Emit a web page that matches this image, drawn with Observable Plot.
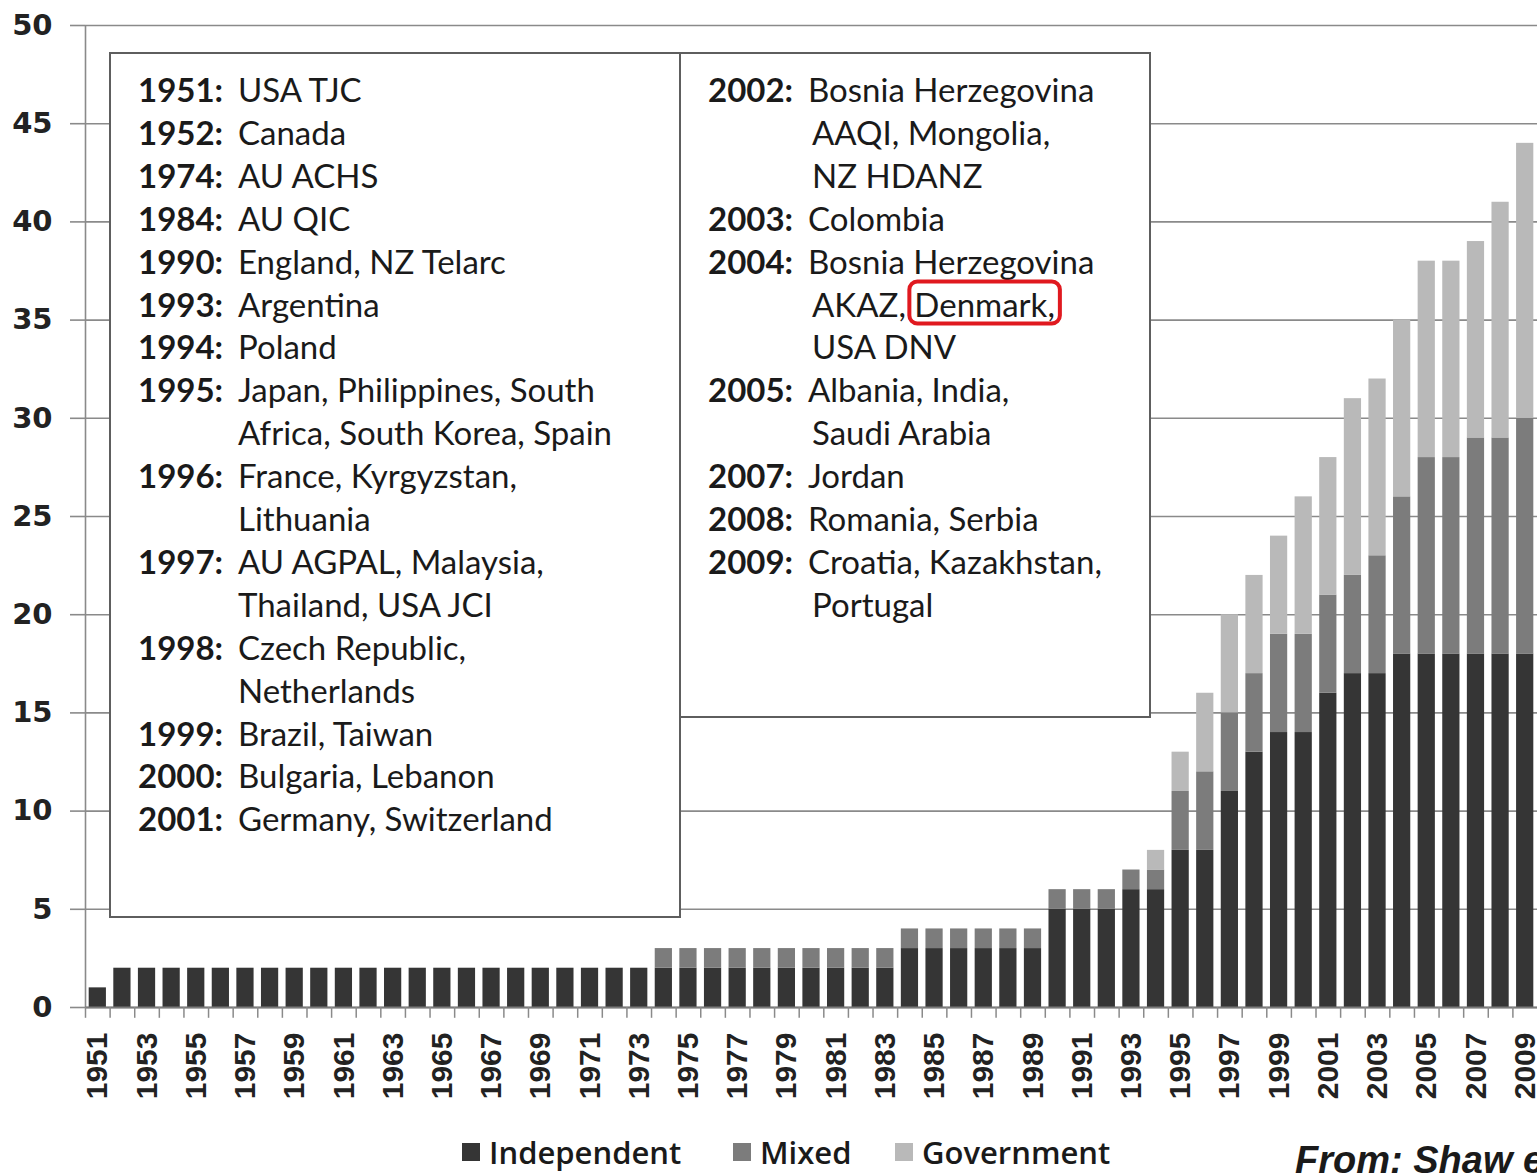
<!DOCTYPE html>
<html>
<head>
<meta charset="utf-8">
<script src="https://cdn.jsdelivr.net/npm/d3@7"></script>
<script src="https://cdn.jsdelivr.net/npm/@observablehq/plot@0.6"></script>
<style>
  html, body { margin: 0; padding: 0; background: #fff; overflow: hidden; }
  #wrap { position: relative; width: 1537px; height: 1173px; overflow: hidden; background: #fff; }
  #legend { position: absolute; left: 0; top: 1128px; width: 1537px; height: 48px;
            font-family: "Open Sans", sans-serif; font-weight: 600; font-size: 31px; color: #1a1a1a; }
  .item { position: absolute; top: 0; height: 48px; display: flex; align-items: center; white-space: nowrap; }
  .sw { width: 18px; height: 18px; margin-right: 9px; }
  #source { position: absolute; left: 1295px; top: 1141px; line-height: 38px; white-space: nowrap;
            font-family: "Liberation Sans", Arial, sans-serif; font-weight: bold; font-style: italic;
            font-size: 38px; color: #1a1a1a; }
</style>
</head>
<body>
<div id="wrap">
  <div id="chart"></div>
  <div id="legend"></div>
  <div id="source">From: Shaw e</div>
</div>
<script>
// ---------- data ----------
const years = [1951,1952,1953,1954,1955,1956,1957,1958,1959,1960,1961,1962,1963,1964,1965,1966,1967,1968,1969,1970,
  1971,1972,1973,1974,1975,1976,1977,1978,1979,1980,1981,1982,1983,1984,1985,1986,1987,1988,1989,1990,
  1991,1992,1993,1994,1995,1996,1997,1998,1999,2000,2001,2002,2003,2004,2005,2006,2007,2008,2009];
const independent = [1,2,2,2,2,2,2,2,2,2,2,2,2,2,2,2,2,2,2,2,
  2,2,2,2,2,2,2,2,2,2,2,2,2,3,3,3,3,3,3,5,
  5,5,6,6,8,8,11,13,14,14,16,17,17,18,18,18,18,18,18];
const mixed = [0,0,0,0,0,0,0,0,0,0,0,0,0,0,0,0,0,0,0,0,
  0,0,0,1,1,1,1,1,1,1,1,1,1,1,1,1,1,1,1,1,
  1,1,1,1,3,4,4,4,5,5,5,5,6,8,10,10,11,11,12];
const government = [0,0,0,0,0,0,0,0,0,0,0,0,0,0,0,0,0,0,0,0,
  0,0,0,0,0,0,0,0,0,0,0,0,0,0,0,0,0,0,0,0,
  0,0,0,1,2,4,5,5,5,7,7,9,9,9,10,10,10,12,14];
const seriesNames = ["Independent", "Mixed", "Government"];
const seriesColors = ["#353535", "#7c7c7c", "#b9b9b9"];
const yTicks = [0,5,10,15,20,25,30,35,40,45,50];
const labelYears = years.filter((y, i) => i % 2 === 0);

const leftNotes = [
  ["1951", ["USA TJC"]],
  ["1952", ["Canada"]],
  ["1974", ["AU ACHS"]],
  ["1984", ["AU QIC"]],
  ["1990", ["England, NZ Telarc"]],
  ["1993", ["Argentina"]],
  ["1994", ["Poland"]],
  ["1995", ["Japan, Philippines, South", "Africa, South Korea, Spain"]],
  ["1996", ["France, Kyrgyzstan,", "Lithuania"]],
  ["1997", ["AU AGPAL, Malaysia,", "Thailand, USA JCI"]],
  ["1998", ["Czech Republic,", "Netherlands"]],
  ["1999", ["Brazil, Taiwan"]],
  ["2000", ["Bulgaria, Lebanon"]],
  ["2001", ["Germany, Switzerland"]]
];
const rightNotes = [
  ["2002", ["Bosnia Herzegovina", "AAQI, Mongolia,", "NZ HDANZ"]],
  ["2003", ["Colombia"]],
  ["2004", ["Bosnia Herzegovina", "AKAZ, |Denmark,", "USA DNV"]],
  ["2005", ["Albania, India,", "Saudi Arabia"]],
  ["2007", ["Jordan"]],
  ["2008", ["Romania, Serbia"]],
  ["2009", ["Croatia, Kazakhstan,", "Portugal"]]
];

// ---------- table for the library ----------
const rows = years.flatMap((year, i) => [
  {year, type: seriesNames[0], value: independent[i]},
  {year, type: seriesNames[1], value: mixed[i]},
  {year, type: seriesNames[2], value: government[i]}
]);

const W = 1537, H = 1125, ML = 85, MR = 0, MT = 25, MB = 118;
const step = (W - ML - MR) / years.length;
const gridColor = "#8a8a8a";

const plot = Plot.plot({
  width: W, height: H,
  marginLeft: ML, marginRight: MR, marginTop: MT, marginBottom: MB,
  style: {background: "#fff", fontFamily: "Lato", overflow: "visible"},
  x: {type: "band", domain: years, paddingInner: 0.3, paddingOuter: 0.15, axis: null},
  y: {domain: [0, 50]},
  color: {domain: seriesNames, range: seriesColors},
  marks: [
    Plot.gridY(yTicks, {stroke: gridColor, strokeOpacity: 1, strokeWidth: 1.6}),
    Plot.axisY({ticks: yTicks, tickSize: 15, tickPadding: 18, label: null,
      stroke: gridColor, strokeWidth: 1.6, fill: "#222",
      fontSize: 29, fontWeight: "bold", fontFamily: "DejaVu Sans"}),
    Plot.ruleX([years[0]], {dx: -step / 2, y1: 0, y2: 50, stroke: gridColor, strokeWidth: 1.6}),
    Plot.barY(rows, {x: "year", y: "value", fill: "type"}),
    Plot.ruleY([0], {stroke: "#7a7a7a", strokeWidth: 2}),
    Plot.ruleX(years, {dx: -step / 2, y1: 0, y2: -0.55, stroke: gridColor, strokeWidth: 1.5}),
    Plot.text(labelYears, {x: d => d, y: 0, dy: 25, rotate: -90, textAnchor: "end", lineAnchor: "middle",
      text: d => String(d), fontSize: 30, fontWeight: "bold", fontFamily: "Liberation Sans", fill: "#222"})
  ]
});
document.getElementById("chart").appendChild(plot);

// ---------- annotation boxes ----------
const svg = d3.select(plot);
const firstBaseline = 102, lineStep = 42.9;
let denmarkText = null;
function drawBox(x0, y0, x1, y1, notes, yearX, textX, contX) {
  const g = svg.append("g").attr("font-family", "Lato").attr("font-size", 33)
    .attr("fill", "#1a1a1a").attr("text-anchor", "start");
  g.append("rect").attr("x", x0).attr("y", y0).attr("width", x1 - x0).attr("height", y1 - y0)
    .attr("fill", "#fff").attr("stroke", "#5e5e5e").attr("stroke-width", 2);
  let line = 0;
  notes.forEach(([year, lines]) => {
    lines.forEach((t, j) => {
      const yy = firstBaseline + line * lineStep;
      const text = g.append("text").attr("y", yy).attr("text-anchor", "start");
      if (j === 0) text.append("tspan").attr("x", yearX).attr("font-weight", "bold").text(year + ":");
      const parts = t.split("|");
      text.append("tspan").attr("x", j === 0 ? textX : contX).text(parts[0]);
      if (parts.length > 1) {
        text.append("tspan").text(parts[1]);
        denmarkText = {node: text.node(), start: (j === 0 ? year.length + 1 : 0) + parts[0].length, len: parts[1].length, y: yy};
      }
      line++;
    });
  });
}
drawBox(110, 53, 680, 917, leftNotes, 138, 238, 238);
drawBox(680, 53, 1150, 717, rightNotes, 708, 808, 812);

if (denmarkText) {
  const n = denmarkText.node;
  const sx = n.getStartPositionOfChar(denmarkText.start).x;
  const w = n.getSubStringLength(denmarkText.start, denmarkText.len);
  svg.append("rect").attr("x", sx - 5).attr("y", denmarkText.y - 35).attr("width", w + 10).attr("height", 42)
    .attr("rx", 8).attr("fill", "none").attr("stroke", "#e0191f").attr("stroke-width", 4);
}

// ---------- legend ----------
const legendLeft = [462, 733, 895];
const legend = d3.select("#legend");
seriesNames.forEach((name, i) => {
  const it = legend.append("div").attr("class", "item").style("left", legendLeft[i] + "px");
  it.append("div").attr("class", "sw").style("background", seriesColors[i]);
  it.append("span").text(name);
});
</script>
</body>
</html>
